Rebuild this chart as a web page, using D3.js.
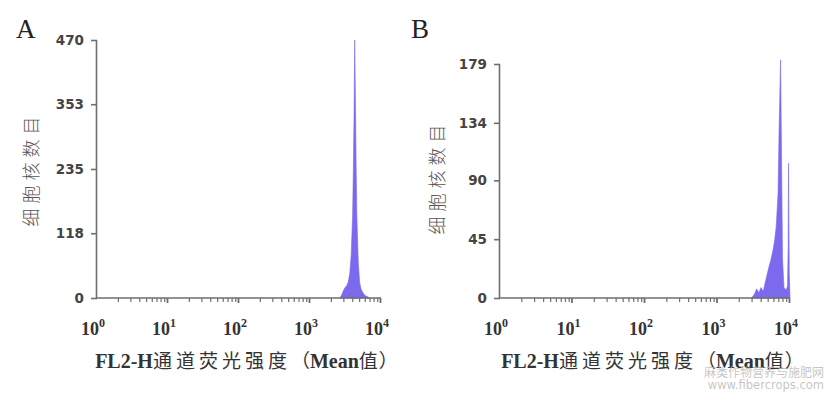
<!DOCTYPE html>
<html>
<head>
<meta charset="utf-8">
<script src="https://cdn.jsdelivr.net/npm/d3@7"></script>
<style>
  body { margin: 0; background: #fff; }
  svg { display: block; }
</style>
</head>
<body>
<div id="chart"></div>
<script>
// histogram A: bin positions as log10(intensity), counts per bin
const logA = [3.42, 3.44, 3.46, 3.48, 3.50, 3.52, 3.54, 3.56, 3.58, 3.60, 3.61, 3.62, 3.63, 3.64, 3.65, 3.66, 3.68, 3.70, 3.72, 3.74, 3.76, 3.78, 3.80, 3.84];
const countsA = [0, 4, 10, 16, 20, 23, 30, 45, 78, 150, 230, 330, 470, 360, 240, 150, 65, 28, 16, 11, 7, 4, 3, 0];

// histogram B
const logB = [3.47, 3.51, 3.54, 3.57, 3.60, 3.63, 3.655, 3.68, 3.71, 3.74, 3.77, 3.79, 3.81, 3.835, 3.85, 3.87, 3.883, 3.897, 3.917, 3.945, 3.966, 3.975, 3.98, 3.99, 4.0];
const countsB = [0, 3, 7, 4, 8, 5, 11, 17, 24, 30, 38, 45, 55, 80, 130, 182, 110, 30, 8, 6, 9, 40, 103, 20, 0];

const yTicksA = [0, 118, 235, 353, 470];
const yTicksB = [0, 45, 90, 134, 179];
const decades = [0, 1, 2, 3, 4];

const panelLetters = ["A", "B"];
const yTitle = "细胞核数目";
const watermark = ["麻类作物营养与施肥网", "www.fibercrops.com"];

const width = 831, height = 394;
const fill = "#7b69ee";
const axisColor = "#6e6e6e";

const svg = d3.select("#chart").append("svg")
  .attr("width", width)
  .attr("height", height);

const panels = [
  { letter: panelLetters[0], lx: 16, ly: 38, x0: 97, x1: 381, yTop: 40, yMax: 470, ticks: yTicksA, logs: logA, counts: countsA, titleX: 30, titleY: 169 },
  { letter: panelLetters[1], lx: 411, ly: 38, x0: 500, x1: 790, yTop: 64, yMax: 179, ticks: yTicksB, logs: logB, counts: countsB, titleX: 436, titleY: 177 }
];
const yBottom = 298;

panels.forEach(p => {
  const g = svg.append("g");
  const x = d3.scaleLog().domain([1, 1e4]).range([p.x0, p.x1]);
  const y = d3.scaleLinear().domain([0, p.yMax]).range([yBottom, p.yTop]);

  // histogram
  const data = p.logs.map((v, i) => ({ v: Math.pow(10, v), c: p.counts[i] }));
  g.append("path")
    .datum(data)
    .attr("d", d3.area().x(d => x(d.v)).y0(yBottom).y1(d => y(d.c)))
    .attr("fill", fill)
    .attr("stroke", fill)
    .attr("stroke-width", 0.6);

  // y axis
  const yAxis = g.append("g")
    .attr("transform", `translate(${p.x0},0)`)
    .call(d3.axisLeft(y).tickValues(p.ticks).tickSize(6).tickPadding(7));
  yAxis.select(".domain").attr("d", `M-0.5,${p.yTop}V${yBottom}`);
  yAxis.selectAll("line, .domain").attr("stroke", axisColor).attr("stroke-width", 1.6);
  yAxis.selectAll("text")
    .attr("font-family", "DejaVu Sans")
    .attr("font-weight", "bold")
    .attr("font-size", 13.5)
    .attr("fill", "#444");

  // x axis with log minor ticks
  const minor = [];
  for (let d = 0; d < 4; d++) for (let k = 2; k <= 9; k++) minor.push(k * Math.pow(10, d));
  const xAxis = g.append("g")
    .attr("transform", `translate(0,${yBottom})`);
  xAxis.append("line")
    .attr("x1", p.x0 - 1).attr("x2", p.x1)
    .attr("stroke", axisColor).attr("stroke-width", 1.6);
  xAxis.selectAll(".minor")
    .data(minor)
    .join("line")
    .attr("class", "minor")
    .attr("x1", d => x(d)).attr("x2", d => x(d))
    .attr("y1", 0).attr("y2", 4)
    .attr("stroke", axisColor).attr("stroke-width", 1.2);
  xAxis.selectAll(".major")
    .data(decades.slice(1))
    .join("line")
    .attr("class", "major")
    .attr("x1", d => x(Math.pow(10, d)) - 0.5).attr("x2", d => x(Math.pow(10, d)) - 0.5)
    .attr("y1", 0).attr("y2", 5)
    .attr("stroke", axisColor).attr("stroke-width", 1.8);

  const lab = xAxis.selectAll(".lab")
    .data(decades)
    .join("text")
    .attr("class", "lab")
    .attr("x", d => x(Math.pow(10, d)) - 4)
    .attr("y", 37)
    .attr("text-anchor", "middle")
    .attr("font-family", "Liberation Serif")
    .attr("font-weight", "bold")
    .attr("font-size", 18)
    .attr("fill", "#333");
  lab.append("tspan").text("10");
  lab.append("tspan")
    .attr("dy", -8)
    .attr("font-size", 12)
    .text(d => d);

  // axis titles
  g.append("text")
    .attr("transform", `translate(${p.titleX},${p.titleY}) rotate(-90)`)
    .attr("text-anchor", "middle")
    .attr("dominant-baseline", "central")
    .attr("font-family", "Noto Sans CJK SC")
    .attr("font-weight", 300)
    .attr("font-size", 18)
    .attr("letter-spacing", 5)
    .attr("fill", "#555")
    .text(yTitle);

  const xt = g.append("text")
    .attr("x", (p.x0 + p.x1) / 2 + 8)
    .attr("y", 368)
    .attr("text-anchor", "middle")
    .attr("font-size", 20)
    .attr("fill", "#333");
  xt.append("tspan").attr("font-family", "Liberation Serif").attr("font-weight", "bold").text("FL2-H");
  xt.append("tspan").attr("font-family", "Noto Sans CJK SC").attr("font-size", 19).attr("letter-spacing", 4).text("通道荧光强度");
  xt.append("tspan").attr("font-family", "Noto Sans CJK SC").attr("font-size", 19).text("（");
  xt.append("tspan").attr("font-family", "Liberation Serif").attr("font-weight", "bold").text("Mean");
  xt.append("tspan").attr("font-family", "Noto Sans CJK SC").attr("font-size", 19).attr("letter-spacing", 1).text("值）");

  // panel letter
  g.append("text")
    .attr("x", p.lx).attr("y", p.ly)
    .attr("font-family", "Liberation Serif")
    .attr("font-size", 27)
    .attr("fill", "#222")
    .text(p.letter);
});

// watermark (overlaps the B title in the source image too)
svg.append("text")
  .attr("x", 824).attr("y", 377)
  .attr("text-anchor", "end")
  .attr("font-family", "Noto Sans CJK SC")
  .attr("font-size", 12)
  .attr("fill", "#bbb")
  .attr("fill-opacity", 0.85)
  .text(watermark[0]);
svg.append("text")
  .attr("x", 824).attr("y", 389)
  .attr("text-anchor", "end")
  .attr("font-family", "DejaVu Sans")
  .attr("font-size", 11.5)
  .attr("fill", "#bbb")
  .attr("fill-opacity", 0.85)
  .text(watermark[1]);
</script>
</body>
</html>
